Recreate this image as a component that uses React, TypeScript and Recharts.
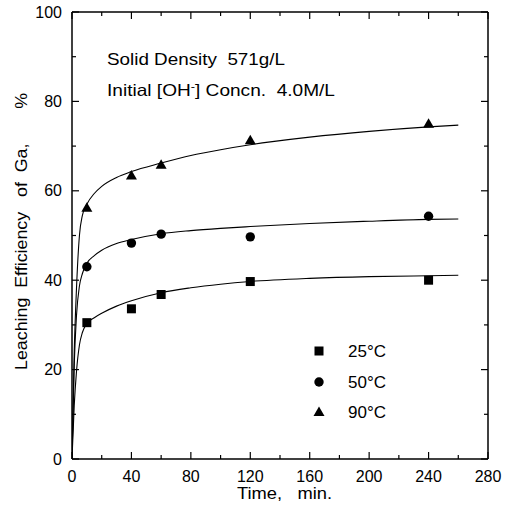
import React from 'react';
import { ComposedChart, Line, Scatter, XAxis, YAxis } from 'recharts';

// measured points (min, %)
const sampleTimes = [10, 40, 60, 120, 240];
const measured25 = [30.5, 33.6, 36.8, 39.7, 40.0];
const measured50 = [43.0, 48.3, 50.3, 49.7, 54.3];
const measured90 = [56.2, 63.4, 65.8, 71.3, 75.0];

// fitted curves
const fitTimes = [0, 1.5, 3, 5, 7, 10, 15, 20, 30, 40, 60, 80, 100, 120, 160, 200, 240, 260];
const fit25 = [0, 12, 19.5, 25.5, 28.3, 30.3, 31.6, 32.6, 34.2, 35.4, 37.2, 38.3, 39.1, 39.7, 40.4, 40.8, 41.0, 41.1];
const fit50 = [0, 21, 32, 38.7, 41.5, 43.8, 45.5, 46.7, 48.2, 49.1, 50.4, 51.1, 51.6, 52.0, 52.7, 53.2, 53.6, 53.7];
const fit90 = [0, 24, 38, 50, 54.5, 57.0, 59.4, 61.0, 63.0, 64.3, 66.2, 67.9, 69.2, 70.3, 72.0, 73.3, 74.3, 74.7];

const xTicks = [0, 20, 40, 60, 80, 100, 120, 140, 160, 180, 200, 220, 240, 260, 280];
const yTicks = [0, 10, 20, 30, 40, 50, 60, 70, 80, 90, 100];

const toPoints = (ts: number[], vs: number[]) => ts.map((t, i) => ({ t, v: vs[i] }));

const FONT = '"Liberation Sans", Arial, sans-serif';

const BottomTick = ({ x, y, payload }: any) => {
  const major = payload.value % 40 === 0;
  return (
    <g>
      <line x1={x} x2={x} y1={y} y2={y - (major ? 7 : 4)} stroke="#000" strokeWidth={1.2} />
      {major && (
        <text x={x} y={y + 23} textAnchor="middle" fontSize={16} fontFamily={FONT} fill="#000">
          {payload.value}
        </text>
      )}
    </g>
  );
};

const TopTick = ({ x, y, payload }: any) => {
  const major = payload.value % 40 === 0;
  return <line x1={x} x2={x} y1={y} y2={y + (major ? 7 : 4)} stroke="#000" strokeWidth={1.2} />;
};

const LeftTick = ({ x, y, payload }: any) => {
  const major = payload.value % 20 === 0;
  return (
    <g>
      <line x1={x} x2={x + (major ? 7 : 4)} y1={y} y2={y} stroke="#000" strokeWidth={1.2} />
      {major && (
        <text x={x - 10} y={y + 5.5} textAnchor="end" fontSize={16} fontFamily={FONT} fill="#000">
          {payload.value}
        </text>
      )}
    </g>
  );
};

const RightTick = ({ x, y, payload }: any) => {
  const major = payload.value % 20 === 0;
  return <line x1={x} x2={x - (major ? 7 : 4)} y1={y} y2={y} stroke="#000" strokeWidth={1.2} />;
};

const Square = ({ cx, cy }: any) => <rect x={cx - 4.5} y={cy - 4.5} width={9} height={9} fill="#000" />;
const Dot = ({ cx, cy }: any) => <circle cx={cx} cy={cy} r={4.7} fill="#000" />;
const Tri = ({ cx, cy }: any) => (
  <polygon points={`${cx},${cy - 5.5} ${cx + 5.5},${cy + 4} ${cx - 5.5},${cy + 4}`} fill="#000" />
);

const legendRows = [
  { label: '25°C', y: 351, Shape: Square },
  { label: '50°C', y: 382, Shape: Dot },
  { label: '90°C', y: 412, Shape: Tri },
];

const axisLine = { stroke: '#000', strokeWidth: 1.5 };

export default function App() {
  return (
    <div style={{ position: 'absolute', left: 0, top: 0, width: 505, height: 510, background: '#fff' }}>
      <ComposedChart width={505} height={510} margin={{ top: 11, right: 16, bottom: 0, left: 32 }}>
        <XAxis
          xAxisId="bottom"
          dataKey="t"
          type="number"
          domain={[0, 280]}
          ticks={xTicks}
          interval={0}
          height={51}
          tickSize={0}
          tickMargin={0}
          tickLine={false}
          tick={<BottomTick />}
          axisLine={axisLine}
          allowDataOverflow
        />
        <XAxis
          xAxisId="top"
          dataKey="t"
          orientation="top"
          type="number"
          domain={[0, 280]}
          ticks={xTicks}
          interval={0}
          height={1}
          tickSize={0}
          tickMargin={0}
          tickLine={false}
          tick={<TopTick />}
          axisLine={axisLine}
          allowDataOverflow
        />
        <YAxis
          yAxisId="left"
          dataKey="v"
          type="number"
          domain={[0, 100]}
          ticks={yTicks}
          interval={0}
          width={40}
          tickSize={0}
          tickMargin={0}
          tickLine={false}
          tick={<LeftTick />}
          axisLine={axisLine}
          allowDataOverflow
        />
        <YAxis
          yAxisId="right"
          dataKey="v"
          orientation="right"
          type="number"
          domain={[0, 100]}
          ticks={yTicks}
          interval={0}
          width={1}
          tickSize={0}
          tickMargin={0}
          tickLine={false}
          tick={<RightTick />}
          axisLine={axisLine}
          allowDataOverflow
        />
        {/* invisible series so the mirrored frame axes get drawn */}
        <Line xAxisId="top" yAxisId="right" data={toPoints(fitTimes, fit90)} dataKey="v" stroke="none" dot={false} activeDot={false} isAnimationActive={false} legendType="none" />
        <Line xAxisId="bottom" yAxisId="left" data={toPoints(fitTimes, fit25)} dataKey="v" type="monotone" stroke="#000" strokeWidth={1.1} dot={false} isAnimationActive={false} />
        <Line xAxisId="bottom" yAxisId="left" data={toPoints(fitTimes, fit50)} dataKey="v" type="monotone" stroke="#000" strokeWidth={1.1} dot={false} isAnimationActive={false} />
        <Line xAxisId="bottom" yAxisId="left" data={toPoints(fitTimes, fit90)} dataKey="v" type="monotone" stroke="#000" strokeWidth={1.1} dot={false} isAnimationActive={false} />
        <Scatter xAxisId="bottom" yAxisId="left" name="25°C" data={toPoints(sampleTimes, measured25)} dataKey="v" shape={<Square />} isAnimationActive={false} />
        <Scatter xAxisId="bottom" yAxisId="left" name="50°C" data={toPoints(sampleTimes, measured50)} dataKey="v" shape={<Dot />} isAnimationActive={false} />
        <Scatter xAxisId="bottom" yAxisId="left" name="90°C" data={toPoints(sampleTimes, measured90)} dataKey="v" shape={<Tri />} isAnimationActive={false} />
      </ComposedChart>
      <svg
        width={505}
        height={510}
        style={{ position: 'absolute', left: 0, top: 0, pointerEvents: 'none' }}
        fontFamily={FONT}
      >
        <text x={107} y={65} fontSize={16.5} textLength={178} lengthAdjust="spacingAndGlyphs">
          Solid Density{'\u00A0\u00A0'}571g/L
        </text>
        <text x={107} y={96} fontSize={16.5} textLength={228} lengthAdjust="spacingAndGlyphs">
          Initial [OH<tspan fontSize={11} dy={-6}>-</tspan>
          <tspan dy={6}>] Concn.{'\u00A0\u00A0'}4.0M/L</tspan>
        </text>
        <text
          x={0}
          y={0}
          transform="translate(27, 231.5) rotate(-90)"
          textAnchor="middle"
          fontSize={16.5}
          textLength={277}
          lengthAdjust="spacingAndGlyphs"
        >
          Leaching{'\u00A0\u00A0'}Efficiency{'\u00A0\u00A0\u00A0'}of{'\u00A0\u00A0'}Ga,{'\u00A0\u00A0\u00A0\u00A0\u00A0\u00A0\u00A0'}%
        </text>
        <text x={284.5} y={499} textAnchor="middle" fontSize={16.5} textLength={95} lengthAdjust="spacingAndGlyphs">
          Time,{'\u00A0\u00A0\u00A0'}min.
        </text>
        {legendRows.map(({ label, y, Shape }) => (
          <g key={label}>
            <Shape cx={319} cy={y} />
            <text x={348} y={y + 6} fontSize={17}>
              {label}
            </text>
          </g>
        ))}
      </svg>
    </div>
  );
}
